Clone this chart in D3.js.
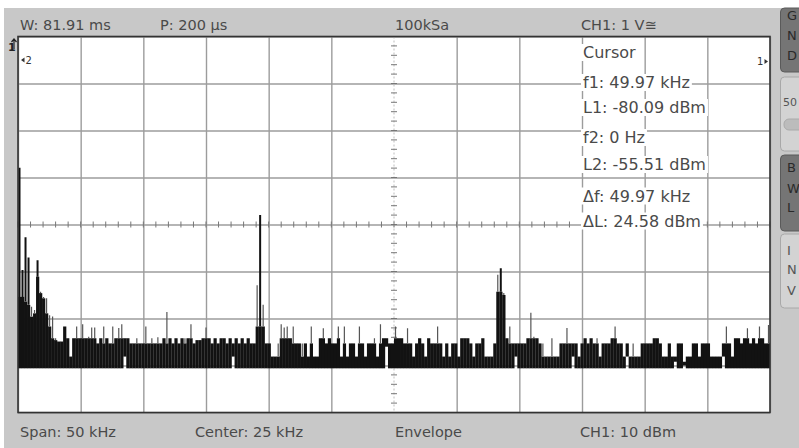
<!DOCTYPE html>
<html><head><meta charset="utf-8">
<script src="https://cdn.jsdelivr.net/npm/d3@7"></script>
<style>body{margin:0;background:#fff;} svg{display:block;}</style>
</head><body>
<svg id="c" width="799" height="448"></svg>
<script>
// ---------- data ----------
const binWidthHz = 200;                 // 250 bins over 0..50 kHz
const freqDomain = [0, 50000];          // Span 50 kHz, Center 25 kHz
const levelDomain = [-100, -20];        // dBm, 10 dBm / div
const xDivisions = 12;
const yDivisions = 8;

const envelopeBody = [
-75.4,-75.4,-76.4,-77.1,-79.6,-78.9,-71.1,-74.6,-75.7,-78.9,
-81.7,-84.2,-84.6,-84.9,-84.9,-81.7,-84.2,-88.1,-84.2,-84.2,
-84.2,-84.2,-84.2,-84.2,-84.2,-84.2,-85.3,-84.2,-85.3,-84.2,
-85.3,-85.3,-84.2,-84.2,-84.2,-84.2,-84.2,-85.3,-85.3,-85.3,
-85.3,-85.3,-85.3,-85.3,-85.3,-85.3,-85.3,-85.3,-84.2,-85.3,
-84.2,-85.3,-84.2,-85.3,-84.2,-85.3,-84.2,-84.2,-85.3,-84.6,
-84.6,-84.2,-84.2,-84.2,-85.3,-84.2,-85.3,-84.2,-84.2,-85.3,
-84.2,-85.3,-84.2,-85.3,-84.2,-85.3,-84.2,-85.3,-85.3,-81.7,
-81.7,-81.7,-85.3,-85.3,-88.1,-88.1,-88.1,-84.2,-84.2,-84.2,
-84.2,-85.3,-85.3,-85.3,-88.1,-85.3,-88.1,-85.3,-88.1,-88.1,
-84.2,-84.2,-85.3,-84.2,-85.3,-85.3,-84.2,-88.1,-85.3,-88.1,
-85.3,-85.3,-88.1,-85.3,-85.3,-88.1,-85.3,-85.3,-85.3,-88.1,
-85.3,-84.2,-84.2,-85.3,-85.3,-84.2,-84.2,-84.2,-85.3,-85.3,
-85.3,-88.1,-85.3,-84.2,-85.3,-88.1,-84.2,-85.3,-85.3,-85.3,
-85.3,-88.1,-85.3,-88.1,-85.3,-85.3,-88.1,-84.2,-84.2,-84.2,
-85.3,-88.1,-85.3,-85.3,-84.2,-88.1,-88.1,-88.1,-85.3,-74.3,
-74.3,-75.0,-84.2,-85.3,-85.3,-85.3,-85.3,-85.3,-85.3,-84.2,
-84.2,-84.2,-84.2,-85.3,-88.1,-88.1,-88.1,-88.1,-88.1,-88.1,
-85.3,-85.3,-85.3,-85.3,-85.3,-85.3,-88.1,-85.3,-84.2,-85.3,
-84.2,-85.3,-85.3,-88.1,-85.3,-85.3,-85.3,-84.2,-84.2,-85.3,
-85.3,-88.1,-85.3,-88.1,-88.1,-88.1,-88.1,-85.3,-85.3,-85.3,
-85.3,-84.2,-84.2,-85.3,-88.1,-88.1,-85.3,-88.1,-88.1,-85.3,
-85.3,-89.2,-88.1,-88.1,-85.3,-85.3,-88.1,-85.3,-85.3,-85.3,
-88.1,-88.1,-88.1,-88.1,-85.3,-85.3,-85.3,-88.1,-84.2,-84.2,
-85.3,-84.2,-84.2,-85.3,-84.2,-85.3,-84.2,-84.2,-85.3,-85.3
];

const envelopeMax = [
-47.9,-69.7,-62.7,-67.0,-77.5,-78.2,-67.6,-74.3,-75.4,-75.7,
-79.3,-79.6,-84.2,-84.9,-84.9,-81.7,-84.2,-88.1,-84.2,-81.7,
-84.2,-81.2,-84.2,-83.9,-81.9,-81.9,-85.3,-84.2,-81.7,-84.2,
-85.3,-81.7,-84.2,-82.0,-81.2,-84.2,-84.2,-85.3,-85.3,-84.2,
-85.3,-85.3,-81.7,-85.3,-84.2,-85.3,-84.0,-85.3,-84.2,-78.6,
-84.2,-85.3,-84.2,-85.3,-84.2,-84.2,-84.2,-81.2,-85.3,-84.6,
-84.6,-84.2,-81.9,-84.2,-85.3,-84.2,-85.3,-84.2,-84.2,-85.3,
-84.2,-85.3,-84.2,-85.3,-84.2,-85.3,-84.2,-85.3,-85.3,-72.9,
-58.0,-77.1,-85.3,-85.3,-88.1,-88.1,-85.3,-81.2,-81.9,-81.7,
-84.2,-81.7,-85.3,-85.3,-85.3,-85.3,-88.1,-81.7,-88.1,-88.1,
-84.2,-82.1,-85.3,-84.2,-85.3,-85.3,-81.7,-88.1,-81.7,-88.1,
-85.3,-85.3,-88.1,-81.7,-85.3,-88.1,-85.3,-85.3,-84.2,-88.1,
-81.2,-84.2,-84.2,-85.3,-85.3,-81.7,-84.2,-84.2,-85.3,-82.1,
-85.3,-88.1,-85.3,-84.2,-85.3,-88.1,-84.2,-85.3,-85.3,-81.7,
-85.3,-88.1,-85.3,-88.1,-85.3,-85.3,-88.1,-84.2,-84.2,-84.2,
-85.3,-88.1,-85.3,-85.3,-84.2,-88.1,-88.1,-88.1,-85.3,-70.7,
-69.3,-74.6,-84.2,-81.7,-85.3,-85.3,-85.3,-85.3,-85.3,-84.2,
-78.8,-83.9,-84.2,-85.3,-85.3,-88.1,-88.1,-84.2,-88.1,-88.1,
-85.3,-85.3,-82.0,-85.3,-85.3,-85.3,-88.1,-85.3,-84.2,-85.3,
-84.2,-85.3,-84.2,-88.1,-85.3,-85.3,-85.3,-84.2,-81.7,-85.3,
-85.3,-88.1,-85.3,-88.1,-85.3,-88.1,-88.1,-85.3,-85.3,-85.3,
-85.3,-84.2,-84.2,-85.3,-88.1,-88.1,-85.3,-88.1,-88.1,-85.3,
-85.3,-89.2,-88.1,-88.1,-85.3,-85.3,-88.1,-85.3,-85.3,-85.3,
-88.1,-88.1,-88.1,-88.1,-85.3,-81.7,-85.3,-88.1,-84.2,-84.2,
-85.3,-84.2,-82.1,-85.3,-84.2,-85.3,-81.7,-84.2,-85.3,-81.4
];

const envelopeMin = [
-90.6,-90.6,-90.6,-90.6,-90.6,-90.6,-90.6,-90.6,-90.6,-90.6,
-90.6,-90.6,-90.6,-90.6,-90.6,-90.6,-90.6,-90.6,-90.6,-90.6,
-90.6,-90.6,-90.6,-90.6,-90.6,-90.6,-90.6,-90.6,-90.6,-90.6,
-90.6,-90.6,-90.6,-90.6,-90.6,-88.1,-90.6,-90.6,-90.6,-90.6,
-90.6,-90.6,-90.6,-90.6,-90.6,-90.6,-90.6,-90.6,-90.6,-90.6,
-90.6,-90.6,-90.6,-90.6,-90.6,-90.6,-90.6,-90.6,-90.6,-90.6,
-90.6,-90.6,-90.6,-90.6,-90.6,-90.6,-90.6,-90.6,-90.6,-90.6,
-90.6,-88.1,-90.6,-90.6,-90.6,-90.6,-90.6,-90.6,-90.6,-90.6,
-90.6,-90.6,-90.6,-90.6,-90.6,-90.6,-90.6,-90.6,-90.6,-90.6,
-90.6,-90.6,-90.6,-90.6,-90.6,-90.6,-90.6,-90.6,-90.6,-90.6,
-90.6,-90.6,-90.6,-90.6,-90.6,-90.6,-90.6,-90.6,-90.6,-90.6,
-90.6,-90.6,-90.6,-90.6,-90.6,-90.6,-90.6,-90.6,-90.6,-90.6,
-90.6,-90.6,-86.0,-90.6,-90.6,-90.6,-90.6,-90.6,-90.6,-90.6,
-90.6,-90.6,-90.6,-90.6,-90.6,-90.6,-90.6,-90.6,-90.6,-90.6,
-90.6,-90.6,-90.6,-90.6,-90.6,-90.6,-90.6,-90.6,-90.6,-90.6,
-90.6,-90.6,-90.6,-90.6,-90.6,-90.6,-90.6,-90.6,-90.6,-90.6,
-90.6,-90.6,-90.6,-90.6,-90.6,-88.1,-90.6,-90.6,-90.6,-90.6,
-90.6,-90.6,-90.6,-90.6,-90.6,-90.6,-90.6,-90.6,-90.6,-90.6,
-90.6,-90.6,-90.6,-90.6,-88.1,-90.6,-90.6,-90.6,-90.6,-90.6,
-90.6,-90.6,-90.6,-90.6,-90.6,-90.6,-90.6,-90.6,-90.6,-90.6,
-90.6,-90.6,-88.1,-90.6,-90.6,-90.6,-90.6,-90.6,-90.6,-90.6,
-90.6,-90.6,-90.6,-90.6,-90.6,-90.6,-90.6,-90.6,-89.2,-90.6,
-90.6,-90.0,-90.6,-90.6,-90.6,-90.6,-90.6,-90.6,-90.6,-90.6,
-90.6,-90.6,-90.6,-90.6,-88.1,-90.6,-90.6,-90.6,-90.6,-90.6,
-90.6,-90.6,-90.6,-90.6,-90.6,-90.6,-90.6,-90.6,-90.6,-90.6
];

const headerLabels = ["W: 81.91 ms", "P: 200 µs", "100kSa", "CH1: 1 V≅"];
const footerLabels = ["Span: 50 kHz", "Center: 25 kHz", "Envelope", "CH1: 10 dBm"];
const cursorLabels = ["Cursor", "f1: 49.97 kHz", "L1: -80.09 dBm", "f2: 0 Hz", "L2: -55.51 dBm", "Δf: 49.97 kHz", "ΔL: 24.58 dBm"];
const sideButtons = [
  {letters:["G","N","D"], dark:true},
  {letters:["50"], dark:false},
  {letters:["B","W","L"], dark:true},
  {letters:["I","N","V"], dark:false}
];

// ---------- layout ----------
const W = 799, H = 448;
const P = {left:18, right:770, top:36.5, bottom:412.5};
const FONT = "DejaVu Sans, Verdana, sans-serif";
const TXT = "#4a4a4a";

const svg = d3.select("#c");
const x = d3.scaleLinear().domain(freqDomain).range([P.left, P.right]);
const y = d3.scaleLinear().domain(levelDomain).range([P.bottom, P.top]);

svg.append("rect").attr("width", W).attr("height", H).attr("fill", "#c8c8c8");
svg.append("rect").attr("width", W).attr("height", 8).attr("fill", "#fff");
svg.append("rect").attr("width", 4).attr("height", H).attr("fill", "#fff");
svg.append("rect").attr("x", P.left).attr("y", P.top)
  .attr("width", P.right - P.left).attr("height", P.bottom - P.top).attr("fill", "#fff");

// grid through axes
const xStep = (freqDomain[1] - freqDomain[0]) / xDivisions;
const yStep = (levelDomain[1] - levelDomain[0]) / yDivisions;
const xGrid = d3.range(xDivisions + 1).map(i => freqDomain[0] + i * xStep);
const yGrid = d3.range(yDivisions + 1).map(i => levelDomain[0] + i * yStep);
const xCenter = xGrid[xDivisions / 2], yCenter = yGrid[yDivisions / 2];

const gx = svg.append("g").attr("transform", `translate(0,${P.bottom})`)
  .call(d3.axisBottom(x).tickValues(xGrid.filter(v => v !== xCenter)).tickSize(-(P.bottom - P.top)).tickFormat(""));
gx.select(".domain").remove();
gx.selectAll("line").attr("stroke", "#9c9c9c").attr("stroke-width", 1.4);

const gy = svg.append("g").attr("transform", `translate(${P.left},0)`)
  .call(d3.axisLeft(y).tickValues(yGrid).tickSize(-(P.right - P.left)).tickFormat(""));
gy.select(".domain").remove();
gy.selectAll("line").attr("stroke", "#9c9c9c").attr("stroke-width", 1.4);

// center vertical dotted line + minor ticks
svg.append("line").attr("x1", x(xCenter)).attr("x2", x(xCenter)).attr("y1", P.top).attr("y2", P.bottom)
  .attr("stroke", "#bdbdbd").attr("stroke-width", 1).attr("stroke-dasharray", "2,2");
const yMinor = d3.range(yDivisions * 5 + 1).map(i => levelDomain[0] + i * yStep / 5);
svg.append("g").selectAll("line").data(yMinor).join("line")
  .attr("x1", x(xCenter) - 3).attr("x2", x(xCenter) + 3)
  .attr("y1", d => y(d)).attr("y2", d => y(d)).attr("stroke", "#777").attr("stroke-width", 1);
const xMinor = d3.range(xDivisions * 5 + 1).map(i => freqDomain[0] + i * xStep / 5);
svg.append("g").selectAll("line").data(xMinor).join("line")
  .attr("x1", d => x(d)).attr("x2", d => x(d))
  .attr("y1", y(yCenter) - 3).attr("y2", y(yCenter) + 3).attr("stroke", "#777").attr("stroke-width", 1);

// spectrum envelope
svg.append("clipPath").attr("id", "pc").append("rect")
  .attr("x", P.left).attr("y", P.top).attr("width", P.right - P.left).attr("height", P.bottom - P.top);
const bins = envelopeMax.map((mx, i) => ({f0: i * binWidthHz, f1: (i + 1) * binWidthHz, max: mx, body: envelopeBody[i], min: envelopeMin[i]}));
const gs = svg.append("g").attr("clip-path", "url(#pc)");
gs.selectAll("rect").data(bins).join("rect")
  .attr("x", d => x(d.f0)).attr("width", d => x(d.f1) - x(d.f0) + 0.2)
  .attr("y", d => y(d.body)).attr("height", d => y(d.min) - y(d.body))
  .attr("fill", "#121212");
gs.selectAll("line").data(bins.filter(d => d.max > d.body)).join("line")
  .attr("x1", d => x((d.f0 + d.f1) / 2)).attr("x2", d => x((d.f0 + d.f1) / 2))
  .attr("y1", d => y(d.body)).attr("y2", d => y(d.max))
  .attr("stroke", d => d.max > -70 ? "#111" : "#555")
  .attr("stroke-width", d => d.max > -70 ? 2 : 1.2);

// border
svg.append("rect").attr("x", P.left).attr("y", P.top)
  .attr("width", P.right - P.left).attr("height", P.bottom - P.top)
  .attr("fill", "none").attr("stroke", "#333").attr("stroke-width", 1.6);

// header / footer
const hx = [20, 160, 395, 581], fx = [20, 195, 395, 580];
svg.append("g").selectAll("text").data(headerLabels).join("text")
  .attr("x", (d, i) => hx[i]).attr("y", 30).text(d => d)
  .attr("font-family", FONT).attr("font-size", 14.5).attr("fill", TXT);
svg.append("g").selectAll("text").data(footerLabels).join("text")
  .attr("x", (d, i) => fx[i]).attr("y", 437).text(d => d)
  .attr("font-family", FONT).attr("font-size", 14.5).attr("fill", TXT);

// cursor readout with white background
const cy = [58, 88, 113, 143, 170, 201.5, 226.5];
const gc = svg.append("g");
cursorLabels.forEach((t, i) => {
  const bg = gc.append("rect").attr("fill", "#fff");
  const tx = gc.append("text").attr("x", 583).attr("y", cy[i]).text(t)
    .attr("font-family", FONT).attr("font-size", 16).attr("fill", TXT);
  const b = tx.node().getBBox();
  bg.attr("x", b.x - 2).attr("y", b.y + 1).attr("width", b.width + 4).attr("height", b.height - 2);
});

// markers
svg.append("text").attr("x", 8).attr("y", 51).text("1").attr("font-family", FONT)
  .attr("font-size", 11).attr("font-weight", "bold").attr("fill", "#222");
svg.append("path").attr("d", "M14,49 L14,39 M11.5,42 L14,39 L16.5,42").attr("stroke", "#222").attr("stroke-width", 1.2).attr("fill", "none");
svg.append("path").attr("d", "M21,60 L24.5,57.5 L24.5,62.5 Z").attr("fill", "#333");
svg.append("text").attr("x", 25.5).attr("y", 64).text("2").attr("font-family", FONT).attr("font-size", 10).attr("fill", "#333");
svg.append("text").attr("x", 757).attr("y", 65).text("1").attr("font-family", FONT).attr("font-size", 10).attr("fill", "#333");
svg.append("path").attr("d", "M768,61.5 L764.5,59 L764.5,64 Z").attr("fill", "#333");

// side buttons (cut off at right edge)
const boxes = [{y0: 8, y1: 72}, {y0: 77, y1: 151}, {y0: 155, y1: 231}, {y0: 234, y1: 308}];
const letterY = [[20, 40, 60], [106], [172, 193, 212], [255, 274, 295]];
sideButtons.forEach((b, i) => {
  svg.append("rect").attr("x", 780.5).attr("y", boxes[i].y0).attr("width", 30).attr("height", boxes[i].y1 - boxes[i].y0)
    .attr("rx", 4).attr("fill", b.dark ? "#757575" : "#d3d3d3").attr("stroke", b.dark ? "#5a5a5a" : "#a8a8a8");
  b.letters.forEach((l, j) => {
    const t = svg.append("text").attr("x", l.length > 1 ? 783 : 787).attr("y", letterY[i][j]).text(l)
      .attr("font-family", FONT).attr("font-size", l.length > 1 ? 11 : 13).attr("fill", b.dark ? "#2a2a2a" : "#555");
  });
});
svg.append("rect").attr("x", 784).attr("y", 119).attr("width", 20).attr("height", 11).attr("rx", 5)
  .attr("fill", "#bcbcbc").attr("stroke", "#aaa");
</script>
</body></html>
